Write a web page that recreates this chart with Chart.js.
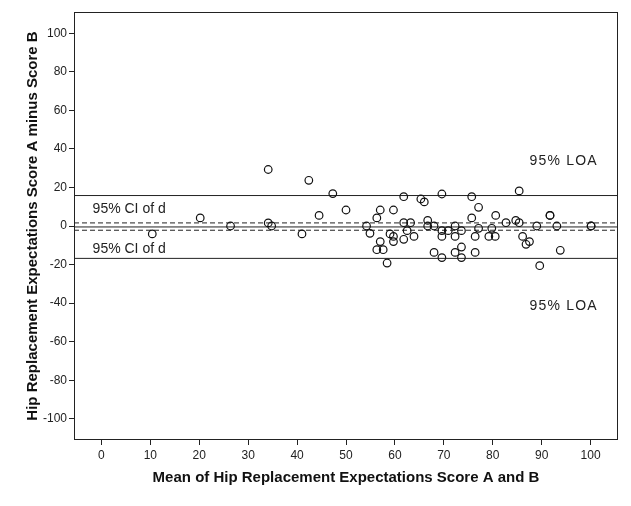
<!DOCTYPE html>
<html>
<head>
<meta charset="utf-8">
<script src="https://cdn.jsdelivr.net/npm/chart.js@4/dist/chart.umd.min.js"></script>
<style>
  html, body { margin: 0; padding: 0; background: #fff; }
  #wrap { width: 631px; height: 506px; }
</style>
</head>
<body>
<div id="wrap"><canvas id="chart"></canvas></div>
<script>
// mean of score A and B (x) and the difference A - B (y)
const meanScores = [
  10.4, 20.2, 26.4, 34.1, 34.1, 34.8, 41.0, 42.4, 44.5, 47.3,
  50.0, 54.2, 54.9, 56.3, 57.0, 57.0, 56.3, 57.6, 58.4, 59.0,
  59.7, 59.7, 59.7, 61.8, 61.8, 61.8, 62.5, 63.2, 63.9, 65.3,
  66.0, 66.7, 66.7, 68.0, 68.0, 69.6, 69.6, 69.6, 69.6, 70.9,
  72.3, 72.3, 72.3, 73.6, 73.6, 73.6, 75.7, 75.7, 76.4, 76.4,
  77.1, 77.1, 79.8, 79.2, 80.5, 80.6, 82.7, 84.7, 85.4, 85.4,
  86.1, 86.8, 87.5, 89.0, 89.6, 91.7, 91.7, 93.1, 93.8, 100.1, 100.1
];
const differences = [
  -4.1, 4.2, 0, 29.3, 1.6, 0, -4.1, 23.7, 5.5, 16.8,
  8.3, 0, -3.8, 4.2, 8.3, -8.1, -12.3, -12.3, -19.2, -4.1,
  8.3, -5.4, -8.1, 15.2, 1.7, -6.9, -2.4, 1.7, -5.4, 14.0,
  12.5, 2.9, 0, 0, -13.7, 16.6, -2.4, -5.4, -16.4, -2.4,
  0, -5.4, -13.7, -2.4, -10.9, -16.4, 15.2, 4.2, -5.4, -13.7,
  9.7, -1.2, -1.2, -5.4, -5.4, 5.5, 1.7, 2.9, 1.7, 18.2,
  -5.4, -9.5, -8.1, 0, -20.6, 5.5, 5.5, 0, -12.6, 0, 0
];

// reference lines
const meanDiff = -0.5;
const ciUpper = 1.6;
const ciLower = -2.2;
const loaUpper = 15.8;
const loaLower = -16.8;

// axes
const xMin = -5.6, xMax = 105.6;
const yMin = -111, yMax = 111;
const xTickValues = [0, 10, 20, 30, 40, 50, 60, 70, 80, 90, 100];
const yTickValues = [-100, -80, -60, -40, -20, 0, 20, 40, 60, 80, 100];

// annotation texts: [text, x, y]
const annotations = [
  ['95% CI of d', -1.8, 8.5],
  ['95% CI of d', -1.8, -11.8],
  ['95% LOA', 87.5, 33.6],
  ['95% LOA', 87.5, -41.7]
];

const points = meanScores.map((m, i) => ({ x: m, y: differences[i] }));

function hLine(y, dashed) {
  return {
    type: 'line',
    data: [{ x: xMin, y }, { x: xMax, y }],
    borderColor: '#222',
    borderWidth: 1,
    borderDash: dashed ? [5, 3] : [],
    pointRadius: 0,
    fill: false,
  };
}

const framePlugin = {
  id: 'frame',
  beforeDraw(chart) {
    const ctx = chart.ctx;
    ctx.save();
    ctx.fillStyle = '#fff';
    ctx.fillRect(0, 0, chart.width, chart.height);
    ctx.restore();
  },
  afterDraw(chart) {
    const { ctx, chartArea: a, scales } = chart;
    ctx.save();
    ctx.strokeStyle = '#222';
    ctx.lineWidth = 1;
    ctx.strokeRect(Math.round(a.left) + 0.5, Math.round(a.top) + 0.5,
      Math.round(a.right - a.left) - 1, Math.round(a.bottom - a.top) - 1);

    ctx.fillStyle = '#222';
    ctx.font = '14px "Liberation Sans", Arial, sans-serif';
    ctx.textBaseline = 'middle';
    ctx.textAlign = 'left';
    annotations.forEach(([t, x, y]) => {
      // the LOA labels are set a little wider in the original
      ctx.letterSpacing = t.includes('LOA') ? '1.2px' : '0px';
      ctx.fillText(t, scales.x.getPixelForValue(x), scales.y.getPixelForValue(y));
    });
    ctx.restore();
  }
};

new Chart(document.getElementById('chart'), {
  type: 'scatter',
  data: {
    datasets: [
      {
        data: points,
        pointRadius: 3.8,
        pointBorderWidth: 1.2,
        pointBorderColor: '#111',
        pointBackgroundColor: 'rgba(0,0,0,0)',
      },
      hLine(loaUpper, false),
      hLine(ciUpper, true),
      hLine(meanDiff, false),
      hLine(ciLower, true),
      hLine(loaLower, false),
    ],
  },
  options: {
    responsive: true,
    maintainAspectRatio: false,
    animation: false,
    layout: { padding: { left: 0, right: 13, top: 12, bottom: 0 } },
    plugins: {
      legend: { display: false },
      tooltip: { enabled: false },
    },
    scales: {
      x: {
        type: 'linear',
        min: xMin,
        max: xMax,
        afterBuildTicks: (s) => { s.ticks = xTickValues.map((v) => ({ value: v })); },
        afterFit: (s) => { s.height = 66; },
        grid: { drawOnChartArea: false, drawTicks: true, tickLength: 5, color: '#222' },
        border: { display: false },
        ticks: {
          color: '#222',
          padding: 3,
          font: { family: '"Liberation Sans", Arial, sans-serif', size: 12 },
        },
        title: {
          display: true,
          text: 'Mean of Hip Replacement Expectations Score A and B',
          color: '#111',
          font: { family: '"Liberation Sans", Arial, sans-serif', size: 15, weight: 'bold' },
          padding: { top: 0, bottom: 19 },
        },
      },
      y: {
        type: 'linear',
        min: yMin,
        max: yMax,
        afterBuildTicks: (s) => { s.ticks = yTickValues.map((v) => ({ value: v })); },
        afterFit: (s) => { s.width = 74; },
        grid: { drawOnChartArea: false, drawTicks: true, tickLength: 5, color: '#222' },
        border: { display: false },
        ticks: {
          color: '#222',
          padding: 2,
          font: { family: '"Liberation Sans", Arial, sans-serif', size: 12 },
        },
        title: {
          display: true,
          text: 'Hip Replacement Expectations Score A minus Score B',
          color: '#111',
          font: { family: '"Liberation Sans", Arial, sans-serif', size: 15, weight: 'bold' },
          padding: { top: 24, bottom: 0 },
        },
      },
    },
  },
  plugins: [framePlugin],
});
</script>
</body>
</html>
